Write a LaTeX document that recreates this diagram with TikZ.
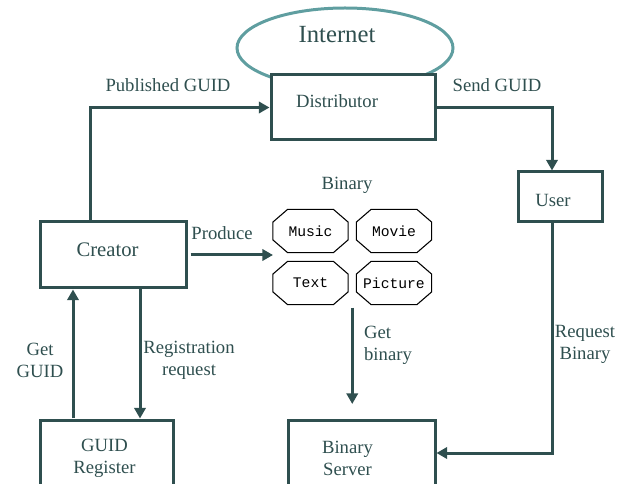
\documentclass[tikz,border=0pt]{standalone}
\usepackage{fontspec}
\setmainfont{Liberation Serif}
\setmonofont{Liberation Mono}
\usetikzlibrary{arrows.meta,calc}
\definecolor{slate}{HTML}{2F4F4F}
\definecolor{cadet}{HTML}{5F9EA0}

\begin{document}
\begin{tikzpicture}[x=0.75pt,y=-0.75pt,
    box/.style={draw=slate,line width=2.25pt,fill=white,rectangle},
    lbl/.style={text=slate,font=\fontsize{14}{16.5}\selectfont,align=center},
    flow/.style={draw=slate,line width=2.25pt,-{Triangle[length=8pt,width=8.5pt]}},
    media/.style={rectangle,minimum width=56pt,minimum height=32pt,inner sep=1pt,
      font=\fontsize{11}{12}\selectfont\ttfamily},
    octo/.style={line width=0.8pt,line join=miter}]
    \useasboundingbox (0,0) rectangle (621,484);
    \clip (0,0) rectangle (621,484);

    % cloud behind the distributor
    \draw[cadet,line width=2.25pt] (345,48) ellipse [x radius=108,y radius=40];
    \node[text=slate,font=\fontsize{18.5}{20}\selectfont] (nodeNet) at (337,35) {Internet};

    % boxes
    \node[box,minimum width=164*0.75pt,minimum height=65*0.75pt] (nodeDist) at (353,107.5) {};
    \node[box,minimum width=146*0.75pt,minimum height=66*0.75pt] (nodeCreator) at (113,255) {};
    \node[box,minimum width=84*0.75pt,minimum height=50*0.75pt] (nodeUser) at (560,197) {};
    \node[box,minimum width=133*0.75pt,minimum height=80*0.75pt] (nodeReg) at (106.5,460) {};
    \node[box,minimum width=147*0.75pt,minimum height=80*0.75pt] (nodeServer) at (361.5,460) {};

    \node[lbl] (txtDist) at ($(nodeDist)+(-16,-6)$) {Distributor};
    \node[lbl,font=\fontsize{15.5}{17}\selectfont] (txtCreator) at ($(nodeCreator)+(-5.5,-5)$) {Creator};
    \node[lbl] (txtUser) at ($(nodeUser)+(-7,3)$) {User};
    \node[lbl] (txtReg) at ($(nodeReg)+(-2,-2)$) {GUID\\Register};
    \node[lbl] (txtServer) at ($(nodeServer)+(-14,-2)$) {Binary\\Server};

    % kinds of binary
    \node[lbl] (txtBinary) at (347,185) {Binary};
    \foreach \name/\x/\y in {Music/310.5/231,Movie/394/231,Text/310.5/283,Picture/394/283}{
        \node[media] (node\name) at (\x,\y) {\name};
        \draw[octo] ([xshift=11pt]node\name.north west) -- ([xshift=-11pt]node\name.north east)
            -- ([yshift=-9.5pt]node\name.north east) -- ([yshift=9.5pt]node\name.south east)
            -- ([xshift=-11pt]node\name.south east) -- ([xshift=11pt]node\name.south west)
            -- ([yshift=9.5pt]node\name.south west) -- ([yshift=-9.5pt]node\name.north west) -- cycle;
    }

    % connectors
    \draw[flow] ($(nodeCreator.north)+(-23,0)$) |- (nodeDist.west);
    \node[lbl] (txtPub) at (168,85) {Published GUID};

    \draw[flow] (nodeDist.east) -| ($(nodeUser.north)+(-8,0)$);
    \node[lbl] (txtSend) at (497,85) {Send GUID};

    \coordinate (prodEnd) at (273,255);
    \draw[flow] ($(nodeCreator.east)+(3,0)$) -- (prodEnd);
    \node[lbl] (txtProd) at (222,233) {Produce};

    \coordinate (binTop) at ($(nodeText.south)!.5!(nodePicture.south)+(0,3)$);
    \draw[flow] (binTop) -- (binTop |- 0,404);
    \node[lbl,align=left] (txtGet) at (388,345) {Get\\binary};

    \draw[flow] ($(nodeReg.north)+(-33.5,0)$) coordinate (gg) -- (gg |- nodeCreator.south);
    \node[lbl] (txtGetGuid) at (40,360) {Get\\GUID};

    \draw[flow] ($(nodeCreator.south)+(27,0)$) coordinate (rr) -- (rr |- nodeReg.north);
    \node[lbl] (txtRegReq) at (189,360) {Registration\\request};

    \draw[flow] ($(nodeUser.south)+(-8,0)$) |- ($(nodeServer.east)+(0,-7)$);
    \node[lbl] (txtReqBin) at (585,344) {Request\\Binary};
\end{tikzpicture}
\end{document}
